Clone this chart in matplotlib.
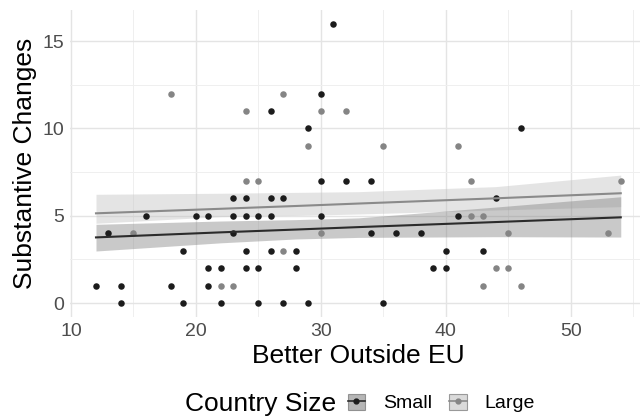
import numpy as np
import matplotlib.pyplot as plt
from matplotlib.patches import Patch
from matplotlib.lines import Line2D

plt.rcParams['font.family'] = ['Liberation Sans', 'DejaVu Sans']

# Small countries (black points)
small_x = [31, 30, 26, 29, 46, 30, 32, 34, 23, 24, 26, 27, 44, 16, 20, 21, 23, 24, 25, 26,
           30, 41, 13, 23, 34, 36, 38, 19, 24, 26, 28, 40, 43, 21, 22, 24, 25, 28, 39, 40,
           12, 14, 18, 21, 14, 19, 22, 25, 27, 29, 35]
small_y = [16, 12, 11, 10, 10, 7, 7, 7, 6, 6, 6, 6, 6, 5, 5, 5, 5, 5, 5, 5,
           5, 5, 4, 4, 4, 4, 4, 3, 3, 3, 3, 3, 3, 2, 2, 2, 2, 2, 2, 2,
           1, 1, 1, 1, 0, 0, 0, 0, 0, 0, 0]

# Large countries (grey points)
large_x = [18, 27, 24, 30, 32, 29, 35, 41, 24, 25, 42, 54, 42, 43, 15, 30, 45, 53, 27, 44,
           45, 22, 23, 43, 46]
large_y = [12, 12, 11, 11, 11, 9, 9, 9, 7, 7, 7, 7, 5, 5, 4, 4, 4, 4, 3, 2,
           2, 1, 1, 1, 1]

# model predictions with 95% bands
pred_x = [12, 22, 28, 33, 44, 54]
small_fit = [3.76, 4.05, 4.21, 4.35, 4.64, 4.91]
small_lo = [2.98, 3.45, 3.67, 3.76, 3.80, 3.78]
small_hi = [4.51, 4.70, 4.78, 4.88, 5.50, 6.09]
large_fit = [5.14, 5.40, 5.56, 5.70, 6.00, 6.29]
large_lo = [4.57, 4.95, 5.02, 5.10, 5.33, 5.52]
large_hi = [6.23, 6.29, 6.34, 6.38, 6.67, 7.33]

groups = ["Small", "Large"]
pt_colors = {"Small": "#1c1c1c", "Large": "#858585"}
line_colors = {"Small": "#2b2b2b", "Large": "#8a8a8a"}
band_colors = {"Small": "#7a7a7a", "Large": "#bdbdbd"}

points = {"Small": (small_x, small_y), "Large": (large_x, large_y)}
preds = {"Small": (small_fit, small_lo, small_hi), "Large": (large_fit, large_lo, large_hi)}

fig = plt.figure(figsize=(6.4, 4.18), dpi=100)
ax = fig.add_axes([69.75 / 640, 1 - 317 / 418, (647 - 69.75) / 640, (317 - 9.8) / 418])

for g in ["Large", "Small"]:
    fit, lo, hi = preds[g]
    ax.fill_between(pred_x, lo, hi, color=band_colors[g], alpha=0.4, lw=0, zorder=2)
    ax.plot(pred_x, fit, color=line_colors[g], lw=1.5, zorder=4)

for g in groups:
    x, y = points[g]
    ax.scatter(x, y, s=22, color=pt_colors[g], lw=0, zorder=3)

ax.set_xlim(9.9, 56.1)
ax.set_ylim(-0.8, 16.8)
ax.set_xticks([10, 20, 30, 40, 50])
ax.set_xticks([15, 25, 35, 45, 55], minor=True)
ax.set_yticks([0, 5, 10, 15])
ax.set_yticks([2.5, 7.5, 12.5], minor=True)
ax.grid(which='major', color='#e4e4e4', lw=1.0)
ax.grid(which='minor', color='#efefef', lw=0.7)
ax.set_axisbelow(True)
for sp in ax.spines.values():
    sp.set_visible(False)
ax.tick_params(which='both', length=0, labelsize=14, labelcolor='#4d4d4d', pad=4)

ax.set_xlabel("Better Outside EU", fontsize=19, labelpad=3)
ax.set_ylabel("Substantive Changes", fontsize=19, labelpad=4)

fig.text(185 / 640, 1 - 404 / 418, "Country Size", fontsize=19, ha='left', va='center')
handles = []
for g in groups:
    handles.append((Patch(facecolor=band_colors[g], alpha=0.55, edgecolor='#555555', lw=0.8),
                    Line2D([], [], color=line_colors[g], lw=1.2, marker='o', ms=3.5,
                           mfc=pt_colors[g], mec=pt_colors[g])))
fig.legend(handles, groups, loc='center left', bbox_to_anchor=(338 / 640, 1 - 403 / 418),
           ncol=2, frameon=False, fontsize=14, handlelength=0.9, handleheight=0.9,
           handletextpad=0.9, columnspacing=0.9, borderpad=0)

fig.savefig("out.png", dpi=100)
